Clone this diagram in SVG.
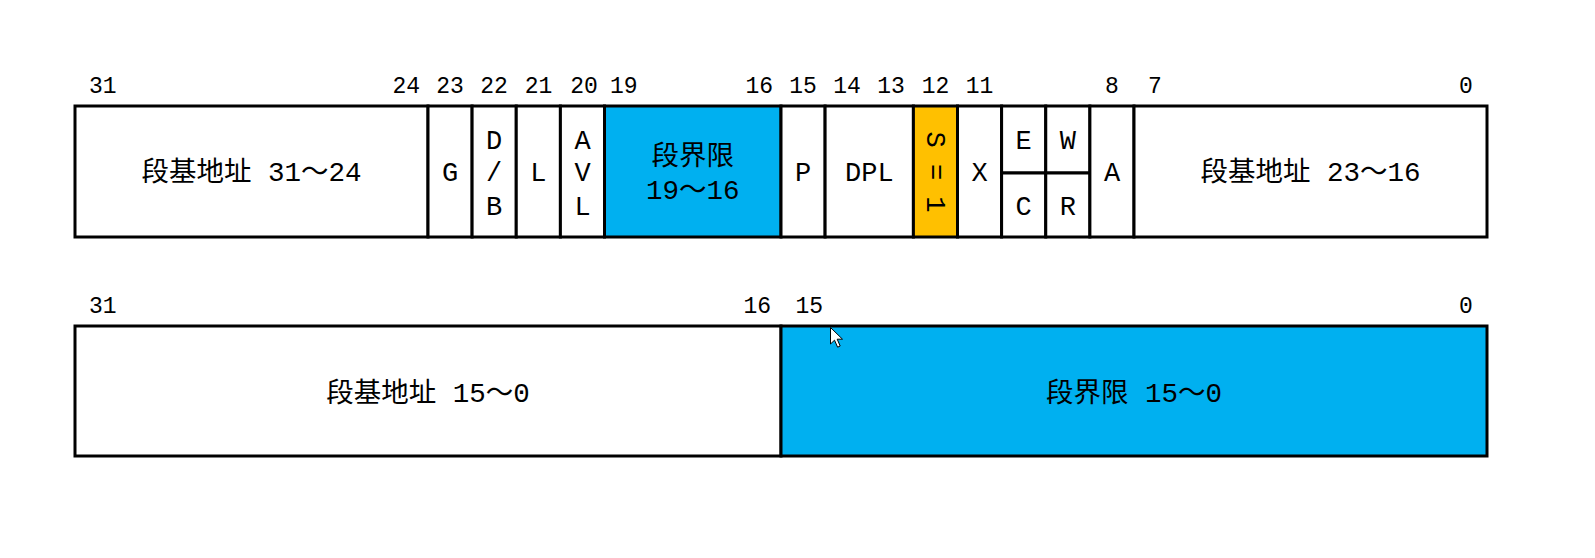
<svg xmlns="http://www.w3.org/2000/svg" width="1595" height="558" viewBox="0 0 1595 558">
<style>
  .cell { fill: #FFFFFF; stroke: #000000; stroke-width: 3; }
  .blue { fill: #00B0F0; }
  .orange { fill: #FFC000; }
  text { font-family: "Liberation Mono", "Noto Sans CJK SC", monospace; fill: #000000; }
  .num { font-size: 23px; }
  .lab { font-size: 27px; text-anchor: middle; }
  .big { font-size: 27.5px; text-anchor: middle; }
  .cjk { font-family: "Noto Sans CJK SC", sans-serif; }
</style>
<rect x="0" y="0" width="1595" height="558" fill="#FFFFFF"/>

<g id="bit-numbers-top" class="num">
  <text x="89" y="93">31</text>
  <text x="420" y="93" text-anchor="end">24</text>
  <text x="450" y="93" text-anchor="middle">23</text>
  <text x="494" y="93" text-anchor="middle">22</text>
  <text x="538.5" y="93" text-anchor="middle">21</text>
  <text x="584" y="93" text-anchor="middle">20</text>
  <text x="610" y="93">19</text>
  <text x="773" y="93" text-anchor="end">16</text>
  <text x="803" y="93" text-anchor="middle">15</text>
  <text x="847" y="93" text-anchor="middle">14</text>
  <text x="891" y="93" text-anchor="middle">13</text>
  <text x="935.5" y="93" text-anchor="middle">12</text>
  <text x="979.5" y="93" text-anchor="middle">11</text>
  <text x="1112" y="93" text-anchor="middle">8</text>
  <text x="1155" y="93" text-anchor="middle">7</text>
  <text x="1466" y="93" text-anchor="middle">0</text>
</g>

<g id="base-31-24">
  <rect class="cell" x="75" y="106" width="353" height="131"/>
  <text class="big" x="251.5" y="181"><tspan class="cjk">段基地址</tspan> 31～24</text>
</g>
<g id="G">
  <rect class="cell" x="428" y="106" width="44.1" height="131"/>
  <text class="lab" x="450" y="181">G</text>
</g>
<g id="DB">
  <rect class="cell" x="472.1" y="106" width="44.15" height="131"/>
  <text class="lab" x="494.2" y="149">D</text>
  <text class="lab" x="494.2" y="181">/</text>
  <text class="lab" x="494.2" y="215">B</text>
</g>
<g id="L">
  <rect class="cell" x="516.25" y="106" width="44.15" height="131"/>
  <text class="lab" x="538.3" y="181">L</text>
</g>
<g id="AVL">
  <rect class="cell" x="560.4" y="106" width="44.1" height="131"/>
  <text class="lab" x="582.5" y="149">A</text>
  <text class="lab" x="582.5" y="181">V</text>
  <text class="lab" x="582.5" y="215">L</text>
</g>
<g id="limit-19-16">
  <rect class="cell blue" x="604.5" y="106" width="176.5" height="131"/>
  <text class="big cjk" x="692.75" y="165">段界限</text>
  <text class="big" x="692.75" y="198.5">19～16</text>
</g>
<g id="P">
  <rect class="cell" x="781" y="106" width="44.1" height="131"/>
  <text class="lab" x="803" y="181">P</text>
</g>
<g id="DPL">
  <rect class="cell" x="825.1" y="106" width="88.3" height="131"/>
  <text class="lab" x="869.3" y="181">DPL</text>
</g>
<g id="S">
  <rect class="cell orange" x="913.4" y="106" width="44.1" height="131"/>
  <text class="lab" transform="translate(935.5,172) rotate(90)" x="0" y="8.5">S = 1</text>
</g>
<g id="X">
  <rect class="cell" x="957.5" y="106" width="44.1" height="131"/>
  <text class="lab" x="979.5" y="181">X</text>
</g>
<g id="E">
  <rect class="cell" x="1001.6" y="106" width="44.15" height="67"/>
  <text class="lab" x="1023.7" y="149">E</text>
</g>
<g id="C">
  <rect class="cell" x="1001.6" y="173" width="44.15" height="64"/>
  <text class="lab" x="1023.7" y="215">C</text>
</g>
<g id="W">
  <rect class="cell" x="1045.75" y="106" width="44.15" height="67"/>
  <text class="lab" x="1067.8" y="149">W</text>
</g>
<g id="R">
  <rect class="cell" x="1045.75" y="173" width="44.15" height="64"/>
  <text class="lab" x="1067.8" y="215">R</text>
</g>
<g id="A">
  <rect class="cell" x="1089.9" y="106" width="44.1" height="131"/>
  <text class="lab" x="1112" y="181">A</text>
</g>
<g id="base-23-16">
  <rect class="cell" x="1134" y="106" width="353" height="131"/>
  <text class="big" x="1310.5" y="181"><tspan class="cjk">段基地址</tspan> 23～16</text>
</g>

<g id="bit-numbers-bottom" class="num">
  <text x="89" y="312.5">31</text>
  <text x="771" y="312.5" text-anchor="end">16</text>
  <text x="795.5" y="312.5">15</text>
  <text x="1466" y="312.5" text-anchor="middle">0</text>
</g>

<g id="base-15-0">
  <rect class="cell" x="75" y="326" width="706" height="130"/>
  <text class="big" x="428" y="401.5"><tspan class="cjk">段基地址</tspan> 15～0</text>
</g>
<g id="limit-15-0">
  <rect class="cell blue" x="781" y="326" width="706" height="130"/>
  <text class="big" x="1134" y="401.5"><tspan class="cjk">段界限</tspan> 15～0</text>
</g>

<g id="connectors"></g>

<g id="cursor">
  <path d="M830.5,327.5 L830.5,344 L834.5,340.2 L837.6,347.2 L840.2,346 L837.2,339.2 L842.5,339.2 Z" fill="#FFFFFF" stroke="#000000" stroke-width="1" stroke-linejoin="round"/>
</g>
</svg>
